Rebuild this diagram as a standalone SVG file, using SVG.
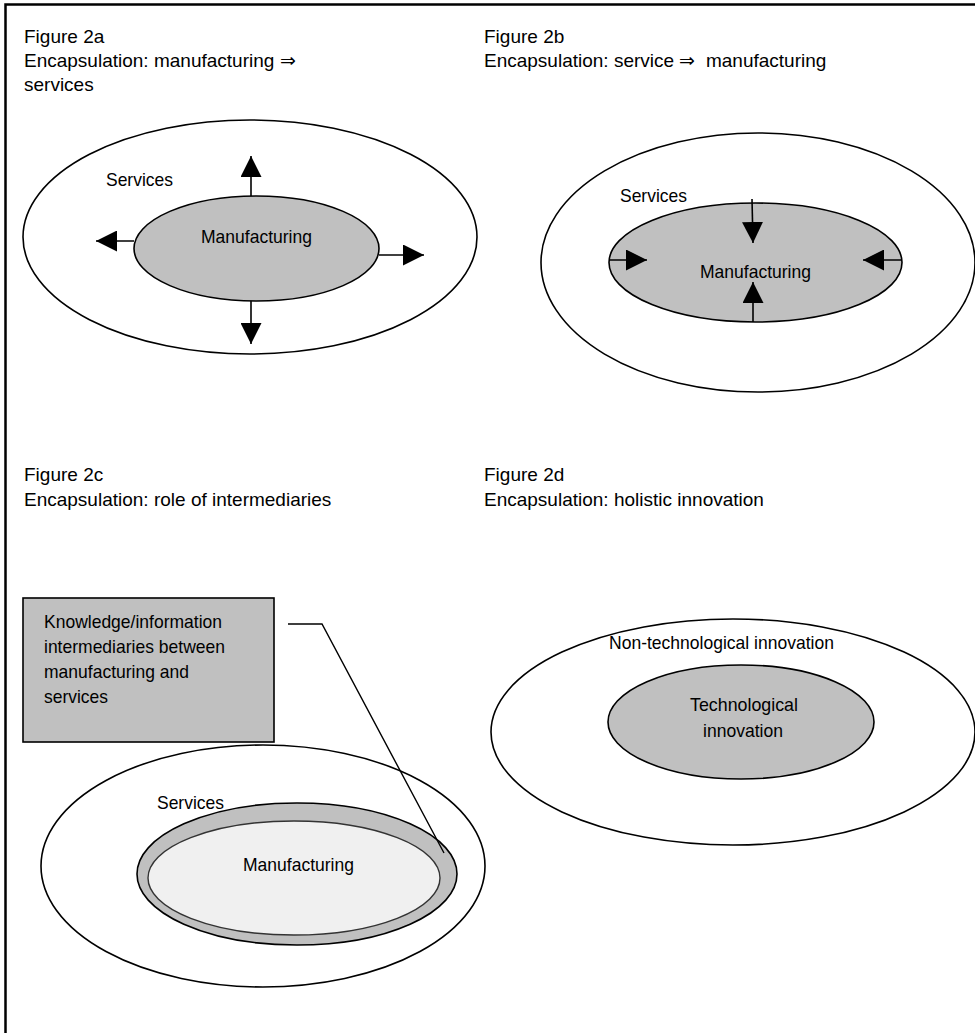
<svg xmlns="http://www.w3.org/2000/svg" width="975" height="1033" viewBox="0 0 975 1033">
<style>
.title{font-family:"Liberation Sans",Arial,sans-serif;font-size:19px;fill:#000}
.lbl{font-family:"Liberation Sans",Arial,sans-serif;font-size:19px;fill:#000}
.outer{fill:#fff;stroke:#000;stroke-width:1.6}
.inner{fill:#c0c0c0;stroke:#000;stroke-width:1.6}
.arr{stroke:#000;stroke-width:1.6;fill:none;marker-end:url(#ah)}
.lead{stroke:#000;stroke-width:1.4;fill:none}
</style>
<defs>
<marker id="ah" markerUnits="userSpaceOnUse" markerWidth="21" markerHeight="21" refX="21" refY="10.5" orient="auto">
<path d="M0,0 L21,10.5 L0,21 z" fill="#000"/>
</marker>
</defs>
<rect width="975" height="1033" fill="#fff"/>
<g id="frame">
<path d="M5.5,1033 V4.5 H975" fill="none" stroke="#000" stroke-width="2.5"/>
</g>
<g id="fig2a">
<text class="title" x="24" y="43">Figure 2a</text>
<text class="title" x="24" y="67">Encapsulation: manufacturing ⇒</text>
<text class="title" x="24" y="91">services</text>
<ellipse id="a-services" class="outer" cx="250" cy="237" rx="227" ry="117"/>
<ellipse id="a-manufacturing" class="inner" cx="256.5" cy="248.5" rx="122.5" ry="52.5"/>
<text class="lbl" x="106" y="186" textLength="67" lengthAdjust="spacingAndGlyphs">Services</text>
<text class="lbl" x="201" y="243" textLength="111" lengthAdjust="spacingAndGlyphs">Manufacturing</text>
</g>
<g id="fig2b">
<text class="title" x="484" y="43">Figure 2b</text>
<text class="title" x="484" y="67" xml:space="preserve">Encapsulation: service ⇒  manufacturing</text>
<ellipse id="b-services" class="outer" cx="758" cy="262.5" rx="217" ry="129.5"/>
<ellipse id="b-manufacturing" class="inner" cx="755.5" cy="262.5" rx="146.5" ry="59.5"/>
<text class="lbl" x="620" y="202" textLength="67" lengthAdjust="spacingAndGlyphs">Services</text>
<text class="lbl" x="700" y="278" textLength="111" lengthAdjust="spacingAndGlyphs">Manufacturing</text>
</g>
<g id="fig2c">
<text class="title" x="24" y="481">Figure 2c</text>
<text class="title" x="24" y="506">Encapsulation: role of intermediaries</text>
<ellipse id="c-services" class="outer" cx="263" cy="866" rx="222" ry="121"/>
<ellipse id="c-ring" cx="297" cy="874" rx="160" ry="71" fill="#c0c0c0" stroke="#000" stroke-width="1.6"/>
<ellipse id="c-manufacturing" cx="294" cy="878" rx="146" ry="57" fill="#f0f0f0" stroke="#333" stroke-width="1.4"/>
<text class="lbl" x="157" y="809" textLength="67" lengthAdjust="spacingAndGlyphs">Services</text>
<text class="lbl" x="243" y="871" textLength="111" lengthAdjust="spacingAndGlyphs">Manufacturing</text>
</g>
<g id="c-intermediaries">
<rect x="23" y="598" width="251" height="144" fill="#c0c0c0" stroke="#000" stroke-width="1.6"/>
<text class="lbl" x="44" y="628" textLength="178" lengthAdjust="spacingAndGlyphs">Knowledge/information</text>
<text class="lbl" x="44" y="653" textLength="181" lengthAdjust="spacingAndGlyphs">intermediaries between</text>
<text class="lbl" x="44" y="678" textLength="145" lengthAdjust="spacingAndGlyphs">manufacturing and</text>
<text class="lbl" x="44" y="703" textLength="64" lengthAdjust="spacingAndGlyphs">services</text>
</g>
<g id="fig2d">
<text class="title" x="484" y="481">Figure 2d</text>
<text class="title" x="484" y="506">Encapsulation: holistic innovation</text>
<ellipse id="d-nontech" class="outer" cx="733" cy="732" rx="242" ry="113"/>
<ellipse id="d-tech" class="inner" cx="741" cy="722" rx="133" ry="57"/>
<text class="lbl" x="609" y="649" textLength="225" lengthAdjust="spacingAndGlyphs">Non-technological innovation</text>
<text class="lbl" x="690" y="711" textLength="108" lengthAdjust="spacingAndGlyphs">Technological</text>
<text class="lbl" x="703" y="737" textLength="80" lengthAdjust="spacingAndGlyphs">innovation</text>
</g>
<g id="connectors">
<line class="arr" x1="251" y1="196" x2="251" y2="156"/>
<line class="arr" x1="134" y1="241" x2="96" y2="241"/>
<line class="arr" x1="379" y1="255" x2="424" y2="255"/>
<line class="arr" x1="251" y1="301" x2="251" y2="344"/>
<line class="arr" x1="752" y1="199" x2="753" y2="243"/>
<line class="arr" x1="609" y1="260" x2="647" y2="260"/>
<line class="arr" x1="902" y1="260" x2="863" y2="260"/>
<line class="arr" x1="753" y1="322" x2="753" y2="282"/>
<polyline class="lead" points="288,624 322,624 444,853"/>
</g>
</svg>
